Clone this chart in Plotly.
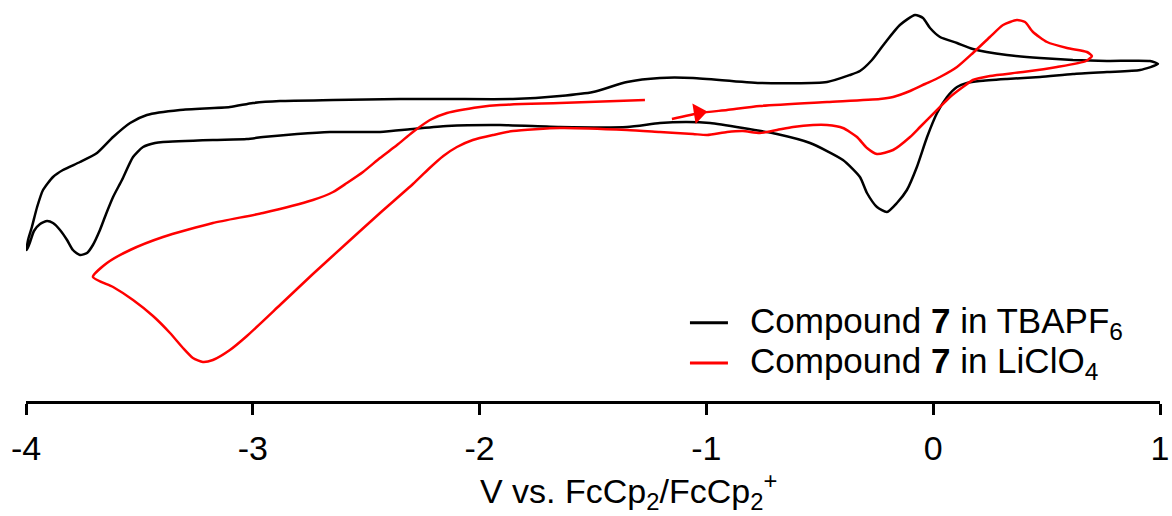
import plotly.graph_objects as go

# Cyclic voltammograms of compound 7, potential in V vs. FcCp2/FcCp2+, current in µA
tbapf6_potential = [
    0.991, 0.912, 0.766, 0.616, 0.471, 0.325, 0.206, 0.149, 0.105, 0.061, 0.017,
    -0.027, -0.072, -0.116, -0.160, -0.204, -0.248, -0.292, -0.323, -0.398, -0.543,
    -0.689, -0.839, -0.984, -1.086, -1.205, -1.350, -1.646, -1.910, -2.144, -2.294,
    -2.439, -2.660, -2.805, -2.955, -3.026, -3.176, -3.396, -3.431, -3.484, -3.528,
    -3.577, -3.616, -3.647, -3.674, -3.705, -3.731, -3.762, -3.793, -3.819, -3.850,
    -3.881, -3.907, -3.938, -3.965, -3.982, -3.996,
    -3.991, -3.974, -3.951, -3.925, -3.881, -3.837, -3.762, -3.687, -3.616, -3.541,
    -3.467, -3.321, -3.101, -2.999, -2.880, -2.646, -2.351, -2.131, -1.853, -1.646,
    -1.500, -1.350, -1.205, -1.059, -0.764, -0.468, -0.367, -0.323, -0.270, -0.213,
    -0.147, -0.080, -0.045, -0.014, 0.030, 0.105, 0.175, 0.325, 0.471, 0.616,
    0.766, 0.956, 0.991,
]
tbapf6_current = [
    6.6, 6.0, 5.8, 5.6, 5.3, 5.1, 4.9, 4.7, 4.3, 3.3, 1.7,
    -0.7, -3.7, -6.0, -7.3, -8.2, -7.7, -6.3, -4.7, -3.0, -1.3,
    -0.4, 0.2, 0.7, 0.8, 0.7, 0.3, 0.3, 0.5, 0.4, 0.1,
    -0.2, -0.2, -0.4, -0.7, -0.9, -1.0, -1.2, -1.3, -1.7, -2.7,
    -5.0, -6.7, -8.4, -10.0, -11.5, -12.3, -12.5, -12.0, -11.0, -10.0,
    -9.3, -9.1, -9.4, -10.1, -11.2, -12.0,
    -11.0, -9.7, -7.7, -6.0, -4.7, -4.0, -3.2, -2.3, -0.7, 0.7,
    1.5, 2.0, 2.3, 2.7, 2.9, 3.0, 3.1, 3.1, 3.1, 3.4,
    3.8, 4.8, 5.2, 5.2, 4.7, 4.8, 5.5, 5.9, 7.0, 8.7,
    10.5, 11.5, 11.2, 10.2, 9.3, 8.7, 8.1, 7.5, 7.2, 7.0,
    6.9, 6.9, 6.6,
]

liclo4_potential = [
    -1.152, -1.028, -0.909, -0.764, -0.468, -0.235, -0.177, -0.102, -0.036, 0.030,
    0.105, 0.175, 0.250, 0.308, 0.369, 0.405, 0.440, 0.502, 0.590, 0.678,
    0.700, 0.674, 0.546, 0.396, 0.250, 0.175, 0.131, 0.074, 0.017, -0.058,
    -0.102, -0.177, -0.248, -0.292, -0.336, -0.398, -0.468, -0.530, -0.618, -0.689,
    -0.764, -0.839, -0.909, -0.997, -1.059, -1.205, -1.350, -1.646, -1.853, -1.940,
    -2.030, -2.100, -2.160, -2.225, -2.294, -2.439, -2.585, -2.735, -2.880, -3.026,
    -3.101, -3.176, -3.220, -3.264, -3.308, -3.365, -3.440, -3.528, -3.616, -3.705,
    -3.643, -3.541, -3.396, -3.176, -2.955, -2.735, -2.646, -2.585, -2.514, -2.439,
    -2.364, -2.294, -2.219, -2.144, -1.998, -1.910, -1.646, -1.271,
]
liclo4_current = [
    1.1, 1.7, 2.0, 2.4, 2.8, 3.1, 3.3, 3.9, 4.6, 5.3,
    6.3, 7.7, 9.3, 10.5, 11.0, 10.8, 9.8, 8.8, 8.2, 7.8,
    7.4, 6.9, 6.3, 5.8, 5.4, 5.0, 4.3, 3.3, 2.0, 0.3,
    -0.7, -2.0, -2.4, -1.8, -0.7, 0.2, 0.5, 0.5, 0.3, 0.0,
    -0.3, -0.1, -0.2, -0.5, -0.4, -0.2, 0.0, 0.2, -0.1, -0.5,
    -1.0, -1.7, -2.6, -3.9, -5.4, -8.3, -11.3, -14.4, -17.5, -20.6,
    -22.0, -23.0, -23.2, -22.8, -21.8, -20.3, -18.6, -17.0, -15.7, -14.7,
    -13.3, -12.0, -10.7, -9.3, -8.3, -7.0, -6.2, -5.3, -4.2, -2.8,
    -1.5, -0.2, 1.0, 1.7, 2.3, 2.5, 2.7, 3.0,
]

# Scan direction marker on the LiClO4 trace
arrow_potential = [-1.035]
arrow_current = [1.7]

x_ticks = [-4, -3, -2, -1, 0, 1]

FONT = "Liberation Sans, Arial, sans-serif"
RED = "#ff0000"
FS = 34

traces = [
    (tbapf6_potential, tbapf6_current, "black", "Compound <b>7</b> in TBAPF<sub>6</sub>"),
    (liclo4_potential, liclo4_current, RED, "Compound <b>7</b> in LiClO<sub>4</sub>"),
]

fig = go.Figure()
for xs, ys, colour, label in traces:
    fig.add_trace(go.Scatter(
        x=xs, y=ys, mode="lines", name=label, showlegend=False,
        line=dict(color=colour, width=2.5, shape="spline", smoothing=0.6),
    ))
fig.add_trace(go.Scatter(
    x=arrow_potential, y=arrow_current, mode="markers",
    marker=dict(symbol="triangle-right", size=18, color=RED, angle=-9),
    showlegend=False, hoverinfo="skip",
))

# Legend: short line samples with labels, lower right of the plot area
legend_rows_y = [0.195, 0.095]
shapes = []
annotations = []
for (xs, ys, colour, label), ly in zip(traces, legend_rows_y):
    shapes.append(dict(
        type="line", xref="paper", yref="paper",
        x0=0.5855, x1=0.619, y0=ly, y1=ly,
        line=dict(color=colour, width=3),
    ))
    annotations.append(dict(
        text=label, xref="paper", yref="paper", x=0.637, y=ly,
        xanchor="left", yanchor="middle", showarrow=False,
        font=dict(family=FONT, size=35, color="black"),
    ))

annotations.append(dict(
    text="V vs. FcCp<sub>2</sub>/FcCp<sub>2</sub><sup>+</sup>",
    xref="paper", yref="paper", x=0.531, y=-0.225,
    xanchor="center", yanchor="middle", showarrow=False,
    font=dict(family=FONT, size=FS, color="black"),
))

fig.update_layout(
    width=1172, height=516,
    margin=dict(l=26, r=12, t=0, b=115),
    paper_bgcolor="white", plot_bgcolor="white",
    font=dict(family=FONT, size=FS, color="black"),
    showlegend=False,
    xaxis=dict(
        range=[-4, 1], tickvals=x_ticks, ticktext=[str(t) for t in x_ticks],
        showline=True, linecolor="black", linewidth=3,
        ticks="outside", ticklen=11, tickwidth=3, tickcolor="black",
        tickfont=dict(family=FONT, size=FS, color="black"),
        ticklabelstandoff=4,
        showgrid=False, zeroline=False,
    ),
    yaxis=dict(range=[-27.1, 13.0], visible=False, showgrid=False, zeroline=False),
    shapes=shapes,
    annotations=annotations,
)

fig.write_html("out.html")
